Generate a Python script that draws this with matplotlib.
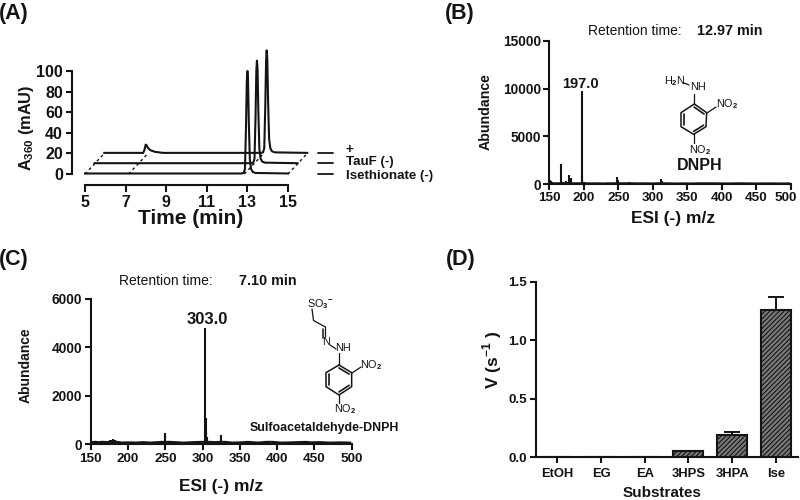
import matplotlib
matplotlib.use("Agg")
import matplotlib.pyplot as plt
from matplotlib.transforms import ScaledTranslation

plt.rcParams.update({
    "font.family": ["Liberation Sans", "DejaVu Sans"],
    "font.weight": "bold",
    "mathtext.fontset": "custom",
    "mathtext.rm": "Liberation Sans",
    "mathtext.bf": "Liberation Sans:bold",
    "hatch.linewidth": 0.8,
})
INK = "#141414"

# panel A, chromatograms (time before the stacking offset)
time_peak = [5, 12.72, 12.82, 12.88, 12.93, 12.97, 13.0, 13.03, 13.07, 13.12, 13.18, 13.26, 13.4, 15]
abs_peak = [0.5, 0.5, 1, 5, 45, 90, 100, 92, 50, 14, 5, 2, 1, 0.5]
time_plus = [5, 6.92, 6.98, 7.04, 7.08, 7.16, 7.28, 7.5, 7.9, 12.72, 12.82, 12.88, 12.93, 12.97, 13.0, 13.03, 13.07, 13.12, 13.18, 13.26, 13.4, 15]
abs_plus = [0.5, 0.5, 3.5, 8.5, 8, 5, 3, 1.5, 0.5, 0.5, 1, 5, 45, 90, 100, 92, 50, 14, 5, 2, 1, 0.5]
shift_x = [0, 0.47, 0.95]
shift_y = [0, 10, 20]
guide_times = [5, 7.15, 12.85, 15]
a_labels = ["+", "TauF (-)", "Isethionate (-)"]

# panel B, spectrum
mz_b = [151, 152, 154, 157, 160, 163, 167, 170, 174, 176, 179, 181, 185, 190, 197, 198, 201, 206, 212,
        220, 228, 236, 243, 248, 249, 255, 260, 266, 272, 280, 290, 300, 306, 312, 313, 320, 330, 342,
        355, 368, 384, 396, 410, 424, 438, 452, 470, 485, 498]
ab_b = [450, 380, 220, 160, 130, 120, 2150, 200, 330, 220, 950, 620, 180, 150, 9700, 950, 200, 110, 100,
        110, 90, 120, 140, 760, 500, 120, 110, 280, 120, 100, 110, 90, 120, 560, 300, 110, 90, 100,
        90, 110, 130, 100, 90, 110, 100, 90, 100, 90, 100]

# panel C, spectrum
mz_c = [152, 155, 157, 160, 165, 168, 172, 176, 178, 180, 182, 186, 192, 200, 210, 220, 230, 240, 245,
        249, 250, 255, 262, 275, 288, 298, 303, 304, 305, 306, 310, 316, 324, 325, 330, 340, 352, 361,
        365, 375, 385, 388, 394, 405, 420, 439, 445, 458, 470, 485, 498]
ab_c = [90, 130, 110, 90, 100, 120, 90, 190, 180, 200, 160, 100, 70, 80, 70, 90, 70, 90, 110,
        480, 450, 100, 90, 70, 90, 110, 4820, 1100, 520, 300, 120, 90, 120, 390, 100, 70, 80, 130,
        90, 70, 110, 120, 110, 70, 80, 130, 80, 90, 70, 80, 70]

# panel D, bars
substrates = ["EtOH", "EG", "EA", "3HPS", "3HPA", "Ise"]
rates = [0, 0, 0, 0.05, 0.19, 1.26]
rate_err = [0, 0, 0, 0.005, 0.03, 0.11]

fig = plt.figure(figsize=(8, 5), dpi=100)


def panel(left, right, top, bottom):
    ax = fig.add_axes([left / 800, 1 - bottom / 500, (right - left) / 800, (bottom - top) / 500])
    ax.patch.set_alpha(0)
    ax.spines[["top", "right"]].set_visible(False)
    ax.spines[["left", "bottom"]].set_linewidth(1.5)
    ax.spines[["left", "bottom"]].set_color(INK)
    ax.tick_params(width=1.5, color=INK, labelcolor=INK)
    return ax


# panel A
ax = panel(72, 288, 71, 174)
ax.set_xlim(4.36, 15)
ax.set_ylim(0, 100)
series = [(time_peak, abs_peak), (time_peak, abs_peak), (time_plus, abs_plus)]
for (tt, yy), dx, dy in zip(series, shift_x, shift_y):
    ax.plot([t + dx for t in tt], [y + dy for y in yy], color=INK, lw=1.5, clip_on=False, zorder=3)
for t in guide_times:
    ax.plot([t, t + shift_x[2]], [shift_y[0], shift_y[2]], color=INK, lw=1.0,
            dashes=(2, 2.2), clip_on=False, zorder=2)
ax.spines["bottom"].set_position(("outward", 7.9))
ax.spines["bottom"].set_bounds(5, 15)
ax.set_xticks([5, 7, 9, 11, 13, 15])
ax.set_yticks([0, 20, 40, 60, 80, 100])
ax.tick_params(axis="x", length=5, labelsize=11.5, pad=2)
ax.tick_params(axis="y", length=4, labelsize=11.5, pad=2.5)

# panel B
ax = panel(549.3, 790.7, 40.7, 184.3)
ax.vlines(mz_b, 0, ab_b, color=INK, lw=1.5)
ax.plot(mz_b, [min(v, 110) for v in ab_b], color=INK, lw=1.4)
ax.set_xlim(150, 500)
ax.set_ylim(0, 15000)
ax.set_xticks(range(150, 501, 50))
ax.set_yticks([0, 5000, 10000, 15000])
ax.tick_params(axis="x", length=4, labelsize=9.7, pad=1.5)
ax.tick_params(axis="y", length=4.5, labelsize=9.9, pad=1.5)
# last label sits a little inside the image edge
last = ax.get_xticklabels()[-1]
last.set_transform(last.get_transform() + ScaledTranslation(-3.5 / 72, 0, fig.dpi_scale_trans))

# panel C
ax = panel(90.7, 351.7, 299, 444.3)
ax.vlines(mz_c, 0, ab_c, color=INK, lw=1.5)
ax.plot(mz_c, [min(v, 100) for v in ab_c], color=INK, lw=1.5)
ax.set_xlim(150, 500)
ax.set_ylim(0, 6000)
ax.set_xticks(range(150, 501, 50))
ax.set_yticks([0, 2000, 4000, 6000])
ax.tick_params(axis="x", length=4, labelsize=9.7, pad=2)
ax.tick_params(axis="y", length=4.5, labelsize=9.9, pad=1.5)

# panel D
ax = panel(536, 798, 282, 457.3)
pos = list(range(len(substrates)))
ax.bar(pos, rates, width=0.69, facecolor="#7a7a7a", edgecolor=INK, hatch="///////", linewidth=1.5)
ax.errorbar(pos[3:], rates[3:], yerr=[[0] * 3, rate_err[3:]], fmt="none", ecolor=INK,
            elinewidth=1.4, capsize=5.6, capthick=1.4)
ax.set_xlim(-0.49, 5.51)
ax.set_ylim(0, 1.5)
ax.set_xticks(pos)
ax.set_xticklabels(substrates)
ax.set_yticks([0, 0.5, 1.0, 1.5])
ax.tick_params(axis="x", length=4, labelsize=9.4, pad=3.5)
ax.tick_params(axis="y", length=4.5, labelsize=9.6, pad=2)

# overlay in image pixels for text and the drawn structures
ov = fig.add_axes([0, 0, 1, 1])
ov.set_xlim(0, 800)
ov.set_ylim(500, 0)
ov.axis("off")
ov.patch.set_alpha(0)


def txt(x, y, s, size, weight="bold", **kw):
    kw.setdefault("ha", "center")
    ov.text(x, y, s, fontsize=size, fontweight=weight, color=INK, va="center", **kw)


def bond(pts, lw=0.9):
    ov.plot([p[0] for p in pts], [p[1] for p in pts], color=INK, lw=lw, solid_capstyle="round")


def ring(x0, y0, top, ur, lr, bot, ll, ul):
    # crop coordinates are 3x, offset to the crop corner
    p = [(x0 + a / 3, y0 + b / 3) for a, b in (top, ur, lr, bot, ll, ul, top)]
    bond(p, lw=1.1)
    cx = sum(q[0] for q in p[:6]) / 6
    cy = sum(q[1] for q in p[:6]) / 6
    for i, j in [(0, 1), (2, 3), (4, 5)]:
        a, b = p[i], p[j]
        bond([(a[0] + (cx - a[0]) * 0.2, a[1] + (cy - a[1]) * 0.2),
              (b[0] + (cx - b[0]) * 0.2, b[1] + (cy - b[1]) * 0.2)], lw=1.2)


# panel letters
txt(14, 13, "(A)", 15.5)
txt(460, 13, "(B)", 15.5)
txt(14, 260, "(C)", 15.5)
txt(461, 260, "(D)", 15.5)

# A labels
txt(191, 218, "Time (min)", 15)
txt(27, 128, r"A$_{\mathbf{360}}$ (mAU)", 11.8, rotation=90)
for y, ly, s in zip([153, 163, 174], [150, 162, 176], a_labels):
    bond([(318, y), (333, y)], lw=1.3)
    txt(346, ly, s, 9.6, ha="left")

# B labels
txt(588, 31, "Retention time:", 10, weight="normal", ha="left")
txt(697, 31, "12.97 min", 10.4, ha="left")
txt(580, 84, "197.0", 10.5)
txt(486, 112, "Abundance", 10.2, rotation=90)
txt(673, 219, "ESI (-) m/z", 12.5)

# DNPH
ring(660, 65, (103, 117), (140, 143), (138, 185), (101, 208), (63, 185), (63, 143))
bond([(694, 104), (694, 94)])
bond([(689, 85), (684, 83)])
bond([(707, 113), (716, 107)])
bond([(694, 134), (694, 143)])
txt(675, 81, r"H$_2$N", 7.8, weight="normal")
txt(698, 87, "NH", 7.8, weight="normal")
txt(727, 104, r"NO$_2$", 7.8, weight="normal")
txt(700, 150, r"NO$_2$", 7.8, weight="normal")
txt(700, 165, "DNPH", 11.5)

# C labels
txt(119, 281, "Retention time:", 10, weight="normal", ha="left")
txt(239, 281, "7.10 min", 10.4, ha="left")
txt(207, 319, "303.0", 12)
txt(26, 365, "Abundance", 10, rotation=90)
txt(221, 487, "ESI (-) m/z", 12.5)
txt(324.5, 428, "Sulfoacetaldehyde-DNPH", 8.9)

# sulfoacetaldehyde hydrazone
ring(295, 290, (132, 225), (170, 248), (170, 290), (132, 315), (93, 290), (93, 248))
bond([(312, 309), (313.5, 320.5), (325.5, 327), (325.5, 337)])
bond([(323, 329), (323, 338)], lw=1.1)
bond([(330, 345), (336, 349)])
bond([(339, 353), (339, 365)])
bond([(352, 373), (361, 367)])
bond([(339, 395), (339, 403)])
txt(320, 304, r"SO$_3$$^{-}$", 7.8, weight="normal")
txt(326, 342, "N", 7.8, weight="normal")
txt(343, 348, "NH", 7.8, weight="normal")
txt(371, 365, r"NO$_2$", 7.8, weight="normal")
txt(345, 409, r"NO$_2$", 7.8, weight="normal")

# D labels
txt(492, 360, r"V (s$^{\mathbf{-1}}$ )", 12.5, rotation=90)
txt(662, 493, "Substrates", 11)

fig.savefig("out.png", dpi=100)
